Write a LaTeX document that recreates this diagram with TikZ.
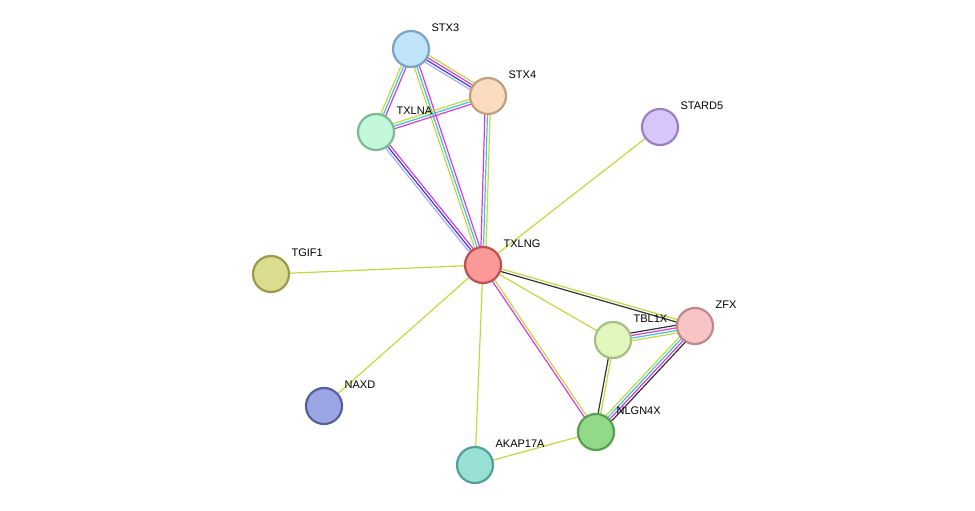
\documentclass[tikz,border=0pt]{standalone}
\usepackage{fontspec}
\setmainfont{Liberation Sans}
\usetikzlibrary{calc}
\definecolor{tm}{HTML}{C2D93A}
\definecolor{ex}{HTML}{D63AD6}
\definecolor{db}{HTML}{3EC0E0}
\definecolor{bl}{HTML}{3B3BE0}
\definecolor{lv}{HTML}{A9A9F5}
\definecolor{co}{HTML}{333333}
\tikzset{
  prot/.style 2 args={circle,minimum size=36pt,inner sep=0pt,line width=2.2pt,
    /utils/exec={\definecolor{pf}{HTML}{#1}\definecolor{pd}{HTML}{#2}},fill=pf,draw=pd},
  lbl/.style={label={[font=\fontsize{11}{13}\selectfont,anchor=west,yshift=21pt,xshift=-2pt]right:#1}},
  ln/.style={line width=1.2pt}
}
% parallel coloured lines of one edge
\newcommand{\edge}[3]{%
  \foreach \c [count=\i] in {#3} {
    \pgfmathsetmacro{\o}{(\i-1)*2.6-(#1-1)*1.3}
    \draw[ln,\c] ($(#2)!\o pt!90:(\ed)$) -- ($(\ed)!\o pt!-90:(#2)$);
  }}
\begin{document}
\begin{tikzpicture}[x=1pt,y=-1pt]
    \useasboundingbox (0,0) rectangle (975,511);
    \coordinate (STX3) at (411,49);
    \coordinate (STX4) at (488,96);
    \coordinate (TXLNA) at (376,132);
    \coordinate (STARD5) at (660,127);
    \coordinate (TXLNG) at (483,265);
    \coordinate (TGIF1) at (271,274);
    \coordinate (TBL1X) at (613,340);
    \coordinate (ZFX) at (695,326);
    \coordinate (NAXD) at (324,406);
    \coordinate (NLGN4X) at (596,432);
    \coordinate (AKAP17A) at (475,465);

    \def\ed{STX4}\edge{4}{STX3}{lv,bl,ex,tm}
    \def\ed{TXLNA}\edge{3}{STX3}{tm,db,ex}
    \def\ed{TXLNG}\edge{3}{STX3}{tm,db,ex}
    \def\ed{STX4}\edge{3}{TXLNA}{ex,db,tm}
    \def\ed{TXLNG}\edge{3}{STX4}{ex,db,tm}
    \def\ed{TXLNG}\edge{3}{TXLNA}{lv,bl,ex}
    \def\ed{STARD5}\edge{1}{TXLNG}{tm}
    \def\ed{TGIF1}\edge{1}{TXLNG}{tm}
    \def\ed{NAXD}\edge{1}{TXLNG}{tm}
    \def\ed{AKAP17A}\edge{1}{TXLNG}{tm}
    \def\ed{TBL1X}\edge{1}{TXLNG}{tm}
    \def\ed{ZFX}\edge{2}{TXLNG}{co,tm}
    \def\ed{NLGN4X}\edge{2}{TXLNG}{ex,tm}
    \def\ed{ZFX}\edge{4}{TBL1X}{tm,db,ex,co}
    \def\ed{NLGN4X}\edge{2}{TBL1X}{co,tm}
    \def\ed{NLGN4X}\edge{4}{ZFX}{tm,db,ex,co}
    \def\ed{AKAP17A}\edge{1}{NLGN4X}{tm}

    \node[prot={c0e5fa}{7ba3c2},lbl=STX3] (nSTX3) at (STX3) {};
    \node[prot={fcdcbf}{c0a07a},lbl=STX4] (nSTX4) at (STX4) {};
    \node[prot={c3f7d9}{7bbb95},lbl=TXLNA] (nTXLNA) at (TXLNA) {};
    \node[prot={d7c7fb}{9a80c8},lbl=STARD5] (nSTARD5) at (STARD5) {};
    \node[prot={fb9898}{c05050},lbl=TXLNG] (nTXLNG) at (TXLNG) {};
    \node[prot={dcdc8e}{9a9a4a},lbl=TGIF1] (nTGIF1) at (TGIF1) {};
    \node[prot={e2f7bd}{a2c080},lbl=TBL1X] (nTBL1X) at (TBL1X) {};
    \node[prot={f7c5c5}{c08888},lbl=ZFX] (nZFX) at (ZFX) {};
    \node[prot={9ca6e4}{5560a0},lbl=NAXD] (nNAXD) at (NAXD) {};
    \node[prot={93d98a}{55a050},lbl=NLGN4X] (nNLGN4X) at (NLGN4X) {};
    \node[prot={98dfd5}{50a098},lbl=AKAP17A] (nAKAP17A) at (AKAP17A) {};
\end{tikzpicture}
\end{document}
